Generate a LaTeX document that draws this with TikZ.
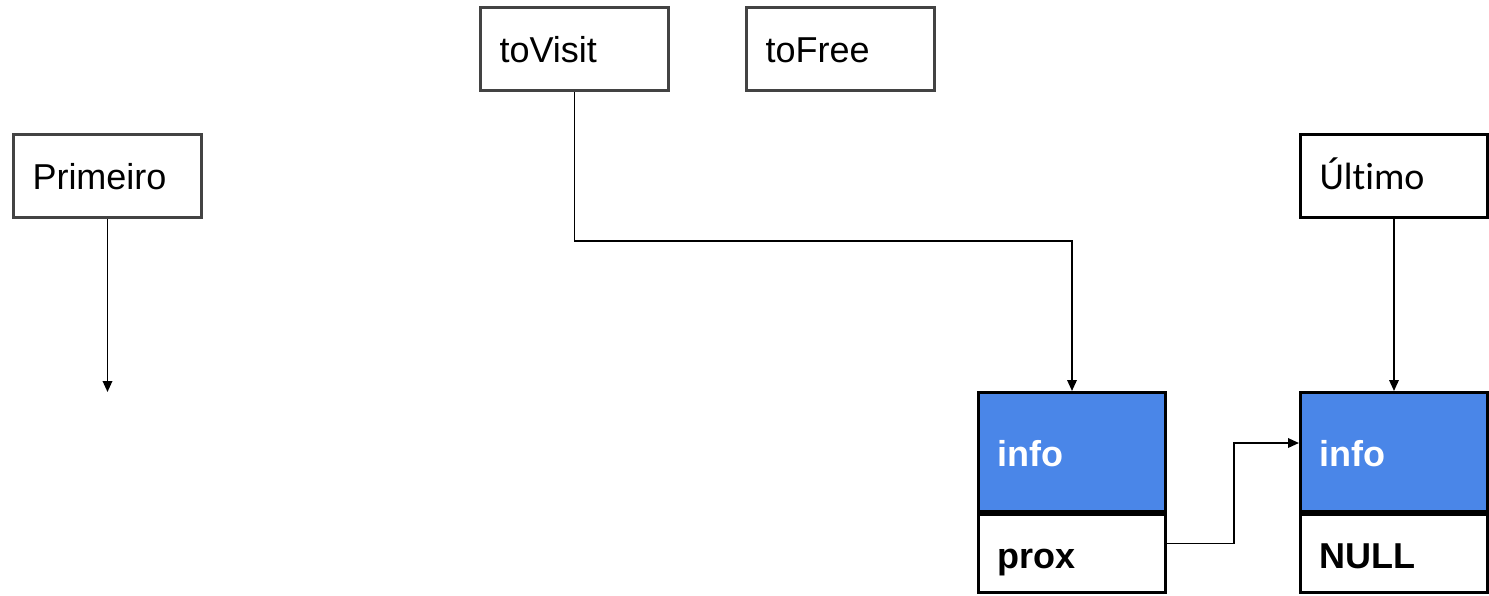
\documentclass[tikz,border=0pt]{standalone}
\usepackage{fontspec}
\setmainfont{Liberation Sans}
\newfontfamily\carlito[Ligatures={NoCommon}]{Carlito}
\usetikzlibrary{arrows.meta}
\definecolor{cellblue}{HTML}{4A86E8}
\definecolor{boxgray}{HTML}{434343}
\begin{document}
\begin{tikzpicture}[x=1pt,y=-1pt,
  ptrbox/.style={draw=boxgray, line width=3pt, rectangle, minimum height=83pt,
    text width=150pt, inner xsep=19pt, align=left, anchor=north west,
    text height=26pt, text depth=0pt, font=\fontsize{36}{40}\selectfont},
  infocell/.style={draw=black, fill=cellblue, line width=3pt, rectangle,
    minimum height=119pt, text width=149pt, inner xsep=19pt, align=left,
    anchor=north west, text=white, text height=28pt, text depth=0pt,
    font=\fontsize{36}{40}\selectfont\bfseries},
  nextcell/.style={draw=black, fill=white, line width=3pt, rectangle,
    minimum height=78pt, text width=149pt, inner xsep=19pt, align=left,
    anchor=north west, text height=30pt, text depth=0pt,
    font=\fontsize{36}{40}\selectfont\bfseries},
  conn/.style={line width=1.8pt, -{Triangle[length=11pt,width=9.5pt]}}]
\useasboundingbox (0,0) rectangle (1489,595);

% pointer variables
\node[ptrbox] (primeiro) at (12,133) {Primeiro};
\node[ptrbox] (tovisit) at (479,6) {toVisit};
\node[ptrbox] (tofree) at (745,6) {toFree};
\node[ptrbox, draw=black, text width=149pt,
      font=\fontsize{38}{42}\selectfont\carlito] (ultimo) at (1299,133) {Último};

% list cells
\node[infocell] (info1) at (977,391) {info};
\node[nextcell] (prox1) at (info1.south west) {prox};
\node[infocell] (info2) at (1299,391) {info};
\node[nextcell] (null2) at (info2.south west) {NULL};

% pointers
\coordinate (pend) at ([yshift=-173pt]primeiro.south);
\draw[conn] (primeiro.south) -- (pend);
\draw[conn] (tovisit.south) -- ++(0,149) -| (info1.north);
\draw[conn] (ultimo.south) -- (info2.north);
\draw[conn] ([yshift=10pt]prox1.east) -- ++(67,0) |- ([yshift=9pt]info2.west);
\end{tikzpicture}
\end{document}
